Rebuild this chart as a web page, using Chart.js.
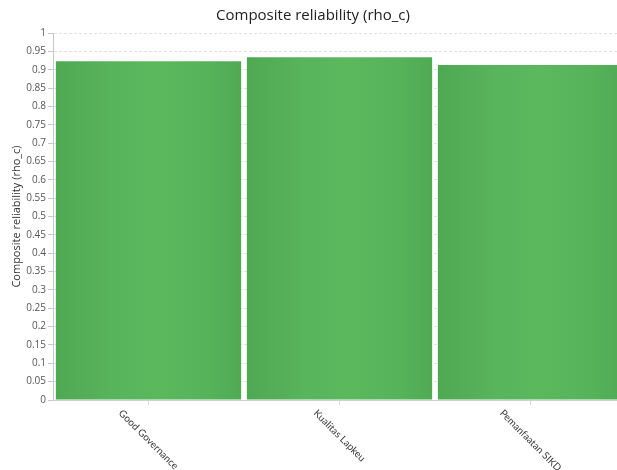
<!DOCTYPE html>
<html>
<head>
<meta charset="utf-8">
<script src="https://cdn.jsdelivr.net/npm/chart.js@4"></script>
<style>
  html, body { margin: 0; padding: 0; background: #fff; overflow: hidden; }
  #wrap { width: 632px; height: 470px; }
</style>
</head>
<body>
<div id="wrap"><canvas id="myChart"></canvas></div>
<script>
const categories = ['Good Governance', 'Kualitas Lapkeu', 'Pemanfaatan SIKD'];
const values = [0.923, 0.934, 0.913];
const yTicks = [0, 0.05, 0.1, 0.15, 0.2, 0.25, 0.3, 0.35, 0.4, 0.45, 0.5,
    0.55, 0.6, 0.65, 0.7, 0.75, 0.8, 0.85, 0.9, 0.95, 1];

const fontFamily = "'Open Sans', 'Noto Sans', sans-serif";
const labelFont = "Lato, 'Open Sans', sans-serif";
const barPct = 0.97;

// horizontal gradient per bar, a bit darker at the edges
const barFill = (context) => {
    const chart = context.chart;
    const x = chart.scales && chart.scales.x;
    if (!chart.chartArea || !x) return '#55b259';
    const cx = x.getPixelForValue(context.dataIndex);
    const half = (x.width / categories.length) * barPct / 2;
    const g = chart.ctx.createLinearGradient(cx - half, 0, cx + half, 0);
    g.addColorStop(0, '#4ea953');
    g.addColorStop(0.3, '#58b45b');
    g.addColorStop(0.55, '#5cb85d');
    g.addColorStop(0.85, '#55b259');
    g.addColorStop(1, '#4faa54');
    return g;
};

// x labels rotated 45deg around their own centre, hanging below each tick
const rotatedLabels = {
    id: 'rotatedLabels',
    afterDraw(chart) {
        const ctx = chart.ctx;
        const x = chart.scales.x;
        ctx.save();
        ctx.font = '10px ' + labelFont;
        ctx.fillStyle = '#3a3a3a';
        ctx.textAlign = 'center';
        ctx.textBaseline = 'middle';
        categories.forEach((lab, i) => {
            const w = ctx.measureText(lab).width;
            const ext = (w + 10) * Math.SQRT1_2;
            const px = x.getPixelForValue(i);
            const py = chart.chartArea.bottom + 8 + ext / 2;
            ctx.save();
            ctx.translate(px, py);
            ctx.rotate(Math.PI / 4);
            ctx.fillText(lab, 0, 0);
            ctx.restore();
        });
        ctx.restore();
    }
};

const ctx = document.getElementById('myChart').getContext('2d');
new Chart(ctx, {
    type: 'bar',
    data: {
        labels: categories,
        datasets: [{
            data: values,
            backgroundColor: barFill,
            borderWidth: 0,
            barPercentage: barPct,
            categoryPercentage: 1,
        }],
    },
    options: {
        responsive: true,
        maintainAspectRatio: false,
        animation: false,
        layout: { padding: { left: 0, right: 6, top: 0, bottom: 65 } },
        plugins: {
            legend: { display: false },
            tooltip: { enabled: false },
            title: {
                display: true,
                text: 'Composite reliability (rho_c)',
                color: '#222',
                font: { family: fontFamily, size: 15, weight: 'normal' },
                padding: { top: 7, bottom: 8 },
            },
        },
        scales: {
            x: {
                grid: { offset: false, drawOnChartArea: false, drawTicks: true, tickLength: 5, color: '#d8d8d8' },
                border: { color: '#d0d0d0' },
                ticks: { display: false },
            },
            y: {
                min: 0,
                max: 1,
                afterFit: (s) => { s.width = 53; },
                afterBuildTicks: (s) => { s.ticks = yTicks.map(v => ({ value: v })); },
                grid: { color: '#e2e2e2', tickLength: 5, tickColor: '#c8c8c8' },
                border: { color: '#c8c8c8', dash: [3, 2] },
                ticks: {
                    color: '#555',
                    padding: 2,
                    font: { family: fontFamily, size: 10 },
                    callback: (v) => String(Math.round(v * 100) / 100),
                },
                title: {
                    display: true,
                    text: 'Composite reliability (rho_c)',
                    color: '#333',
                    font: { family: fontFamily, size: 11 },
                    padding: { top: 10, bottom: 0 },
                },
            },
        },
    },
    plugins: [rotatedLabels],
});
</script>
</body>
</html>
